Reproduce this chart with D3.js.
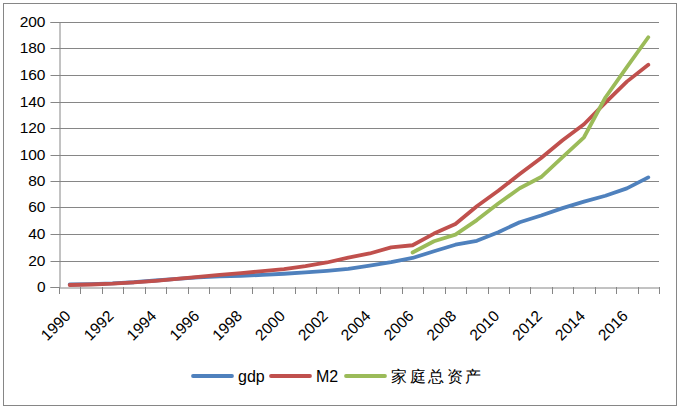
<!DOCTYPE html>
<html>
<head>
<meta charset="utf-8">
<script src="https://cdn.jsdelivr.net/npm/d3@7"></script>
<style>
  html, body { margin: 0; padding: 0; background: #fff; }
  svg { display: block; }
  text { font-family: "Liberation Sans", Arial, sans-serif; fill: #000; }
</style>
</head>
<body>
<svg id="chart" width="680" height="409"></svg>
<script>
const categories = ["1990","1991","1992","1993","1994","1995","1996","1997","1998","1999",
  "2000","2001","2002","2003","2004","2005","2006","2007","2008","2009",
  "2010","2011","2012","2013","2014","2015","2016","2017"];
const xTickLabels = ["1990","1992","1994","1996","1998","2000","2002","2004","2006","2008","2010","2012","2014","2016"];
const yTicks = [0, 20, 40, 60, 80, 100, 120, 140, 160, 180, 200];
const gdp = [1.9, 2.2, 2.7, 3.6, 4.9, 6.1, 7.2, 8.0, 8.5, 9.1, 10.0, 11.0, 12.2, 13.7, 16.2, 18.7,
  21.9, 27.0, 31.9, 34.9, 41.3, 48.9, 54.0, 59.5, 64.4, 68.9, 74.4, 82.7];
const m2 = [1.5, 1.9, 2.5, 3.5, 4.7, 6.1, 7.6, 9.1, 10.4, 12.0, 13.5, 15.8, 18.5, 22.1, 25.3, 29.9,
  31.5, 40.3, 47.5, 61.0, 72.6, 85.2, 97.4, 110.7, 122.8, 139.2, 155.0, 167.7];
const household = [null, null, null, null, null, null, null, null, null, null, null, null, null, null, null, null,
  26.0, 34.5, 39.5, 50.5, 63.0, 74.5, 83.0, 98.0, 113.0, 143.0, 166.0, 188.5];
const seriesNames = ["gdp", "M2", "家庭总资产"];

(function () {
const series = [
  { name: seriesNames[0], values: gdp, color: "#4F81BD" },
  { name: seriesNames[1], values: m2, color: "#C0504D" },
  { name: seriesNames[2], values: household, color: "#9BBB59" }
];

const svg = d3.select("#chart");
const gridColor = "#868686";
const pLeft = 59, pRight = 659, pTop = 22, pBottom = 287;

// outer border
svg.append("rect").attr("x", 3.5).attr("y", 3.5).attr("width", 673).attr("height", 402)
  .attr("fill", "#fff").attr("stroke", gridColor).attr("stroke-width", 1);

const x = d3.scaleBand().domain(categories).range([pLeft, pRight]).padding(0);
const y = d3.scaleLinear().domain([0, 200]).range([pBottom, pTop]);
const bw = x.bandwidth();

// gridlines
svg.append("g").selectAll("line").data(yTicks.filter(d => d !== 0)).join("line")
  .attr("x1", pLeft).attr("x2", pRight)
  .attr("y1", d => Math.round(y(d)) + 0.5).attr("y2", d => Math.round(y(d)) + 0.5)
  .attr("stroke", gridColor).attr("stroke-width", 1);

// y axis
const yAxis = svg.append("g").attr("transform", `translate(${pLeft + 0.5},0)`)
  .call(d3.axisLeft(y).tickValues(yTicks).tickSize(9).tickPadding(5).tickFormat(d3.format("d")));
yAxis.selectAll("line").attr("stroke", gridColor);
yAxis.select(".domain").attr("stroke", gridColor);
yAxis.selectAll("text").attr("font-size", 15.5).attr("font-family", "Liberation Sans, Arial, sans-serif").attr("fill", "#000");
yAxis.selectAll(".tick").attr("transform", d => `translate(0,${Math.round(y(d)) + 0.5})`);

// x axis line
const xAxis = svg.append("g").attr("transform", `translate(0,${pBottom + 0.5})`)
  .call(d3.axisBottom(x).tickSize(0).tickFormat(""));
xAxis.select(".domain").attr("stroke", gridColor);
// boundary ticks
const boundaries = categories.map(c => x(c)).concat([x(categories[categories.length - 1]) + bw]);
svg.append("g").selectAll("line").data(boundaries).join("line")
  .attr("x1", d => Math.round(d) + 0.5).attr("x2", d => Math.round(d) + 0.5)
  .attr("y1", pBottom).attr("y2", pBottom + 7)
  .attr("stroke", gridColor);

// x labels
svg.append("g").selectAll("text").data(xTickLabels).join("text")
  .attr("transform", d => `translate(${x(d) + bw / 2 + 2},${pBottom + 30}) rotate(-45)`)
  .attr("text-anchor", "end")
  .attr("font-size", 15.5)
  .text(d => d);

// lines
const line = d3.line()
  .defined(d => d.v !== null)
  .x(d => x(d.c) + bw / 2)
  .y(d => y(d.v));
series.forEach(s => {
  svg.append("path")
    .datum(categories.map((c, i) => ({ c, v: s.values[i] })))
    .attr("fill", "none")
    .attr("stroke", s.color)
    .attr("stroke-width", 3.8)
    .attr("stroke-linejoin", "round")
    .attr("stroke-linecap", "round")
    .attr("d", line);
});

// legend
const legendItems = [
  { s: series[0], x0: 193, tx: 238 },
  { s: series[1], x0: 271, tx: 316 },
  { s: series[2], x0: 346, tx: 391 }
];
const ly = 376;
const lg = svg.append("g");
legendItems.forEach(it => {
  lg.append("line").attr("x1", it.x0).attr("x2", it.x0 + 39).attr("y1", ly).attr("y2", ly)
    .attr("stroke", it.s.color).attr("stroke-width", 3.8).attr("stroke-linecap", "round");
  const t = lg.append("text").attr("x", it.tx).attr("y", ly + 6).attr("font-size", 16).text(it.s.name);
  if (/[\u4e00-\u9fff]/.test(it.s.name)) {
    t.attr("font-family", "Noto Sans CJK SC, sans-serif").attr("font-size", 16).attr("letter-spacing", 2.5);
  }
});
})();
</script>
</body>
</html>
